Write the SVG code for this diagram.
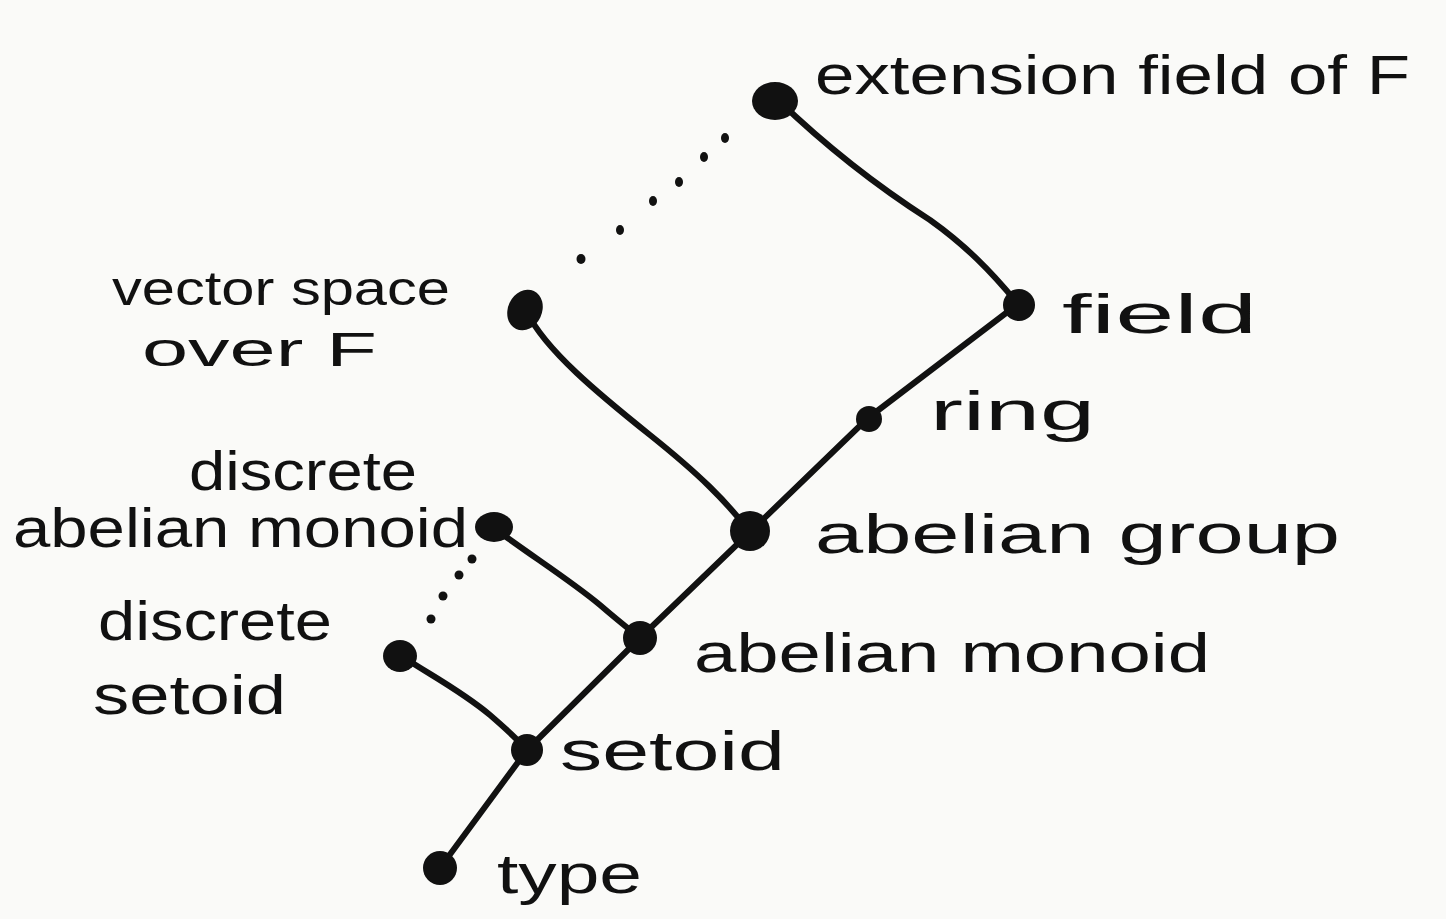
<svg xmlns="http://www.w3.org/2000/svg" width="1446" height="919" viewBox="0 0 1446 919">
<style>
.edge{fill:none;stroke:#111;stroke-width:6;stroke-linecap:round;stroke-linejoin:round}
.dot{fill:#111}
.node{fill:#111}
.lbl{font-family:"Liberation Sans","DejaVu Sans",sans-serif;font-size:56px;fill:#111}
.sm{font-size:48px}
</style>
<rect width="1446" height="919" fill="#fafaf8"/>
<g id="connectors">
<path class="edge" d="M440,868 L527,750"/>
<path class="edge" d="M527,750 L640,638"/>
<path class="edge" d="M640,638 L750,532"/>
<path class="edge" d="M750,532 L868,418"/>
<path class="edge" d="M868,418 L1018,304"/>
<path class="edge" d="M1018,304 C990,270 965,245 930,220 C880,188 830,150 778,100"/>
<path class="edge" d="M527,312 C545,350 600,395 650,435 C700,475 725,500 750,532"/>
<path class="edge" d="M494,528 C530,555 570,580 600,605 C615,618 630,630 640,638"/>
<path class="edge" d="M400,655 C430,675 460,690 490,715 C505,728 518,740 527,750"/>
<g id="dots-upper">
<ellipse class="dot" cx="725" cy="138" rx="4" ry="5"/>
<ellipse class="dot" cx="704" cy="157" rx="4" ry="5"/>
<ellipse class="dot" cx="679" cy="182" rx="4" ry="5"/>
<ellipse class="dot" cx="653" cy="201" rx="4" ry="5"/>
<ellipse class="dot" cx="620" cy="230" rx="4" ry="5"/>
<ellipse class="dot" cx="581" cy="259" rx="4.5" ry="5"/>
</g>
<g id="dots-lower">
<circle class="dot" cx="472" cy="559" r="4.5"/>
<circle class="dot" cx="459" cy="575" r="4.5"/>
<circle class="dot" cx="443" cy="596" r="4.5"/>
<circle class="dot" cx="431" cy="619" r="4.5"/>
</g>
</g>
<g id="n-extension"><ellipse class="node" cx="775" cy="101" rx="23" ry="19"/><text class="lbl" x="815" y="94" textLength="595" lengthAdjust="spacingAndGlyphs">extension field of F</text></g>
<g id="n-field"><circle class="node" cx="1019" cy="305" r="16"/><text class="lbl" x="1062" y="333" textLength="195" lengthAdjust="spacingAndGlyphs">field</text></g>
<g id="n-ring"><circle class="node" cx="869" cy="419" r="13"/><text class="lbl" x="930" y="430" textLength="165" lengthAdjust="spacingAndGlyphs">ring</text></g>
<g id="n-abgroup"><circle class="node" cx="750" cy="531" r="20"/><text class="lbl" x="815" y="553" textLength="525" lengthAdjust="spacingAndGlyphs">abelian group</text></g>
<g id="n-vector"><ellipse class="node" cx="525" cy="310" rx="17" ry="21" transform="rotate(25 525 310)"/><text class="lbl sm" x="112" y="305" textLength="338" lengthAdjust="spacingAndGlyphs">vector space</text><text class="lbl sm" x="142" y="366" textLength="235" lengthAdjust="spacingAndGlyphs">over F</text></g>
<g id="n-abmonoid"><circle class="node" cx="640" cy="638" r="17"/><text class="lbl" x="694" y="672" textLength="516" lengthAdjust="spacingAndGlyphs">abelian monoid</text></g>
<g id="n-discabmonoid"><ellipse class="node" cx="494" cy="527" rx="19" ry="15"/><text class="lbl" x="189" y="490" textLength="228" lengthAdjust="spacingAndGlyphs">discrete</text><text class="lbl" x="13" y="547" textLength="455" lengthAdjust="spacingAndGlyphs">abelian monoid</text></g>
<g id="n-setoid"><circle class="node" cx="527" cy="750" r="16"/><text class="lbl" x="560" y="770" textLength="225" lengthAdjust="spacingAndGlyphs">setoid</text></g>
<g id="n-discsetoid"><ellipse class="node" cx="400" cy="656" rx="17" ry="16"/><text class="lbl" x="98" y="640" textLength="234" lengthAdjust="spacingAndGlyphs">discrete</text><text class="lbl" x="93" y="714" textLength="193" lengthAdjust="spacingAndGlyphs">setoid</text></g>
<g id="n-type"><circle class="node" cx="440" cy="868" r="17"/><text class="lbl" x="497" y="893" textLength="145" lengthAdjust="spacingAndGlyphs">type</text></g>
</svg>
